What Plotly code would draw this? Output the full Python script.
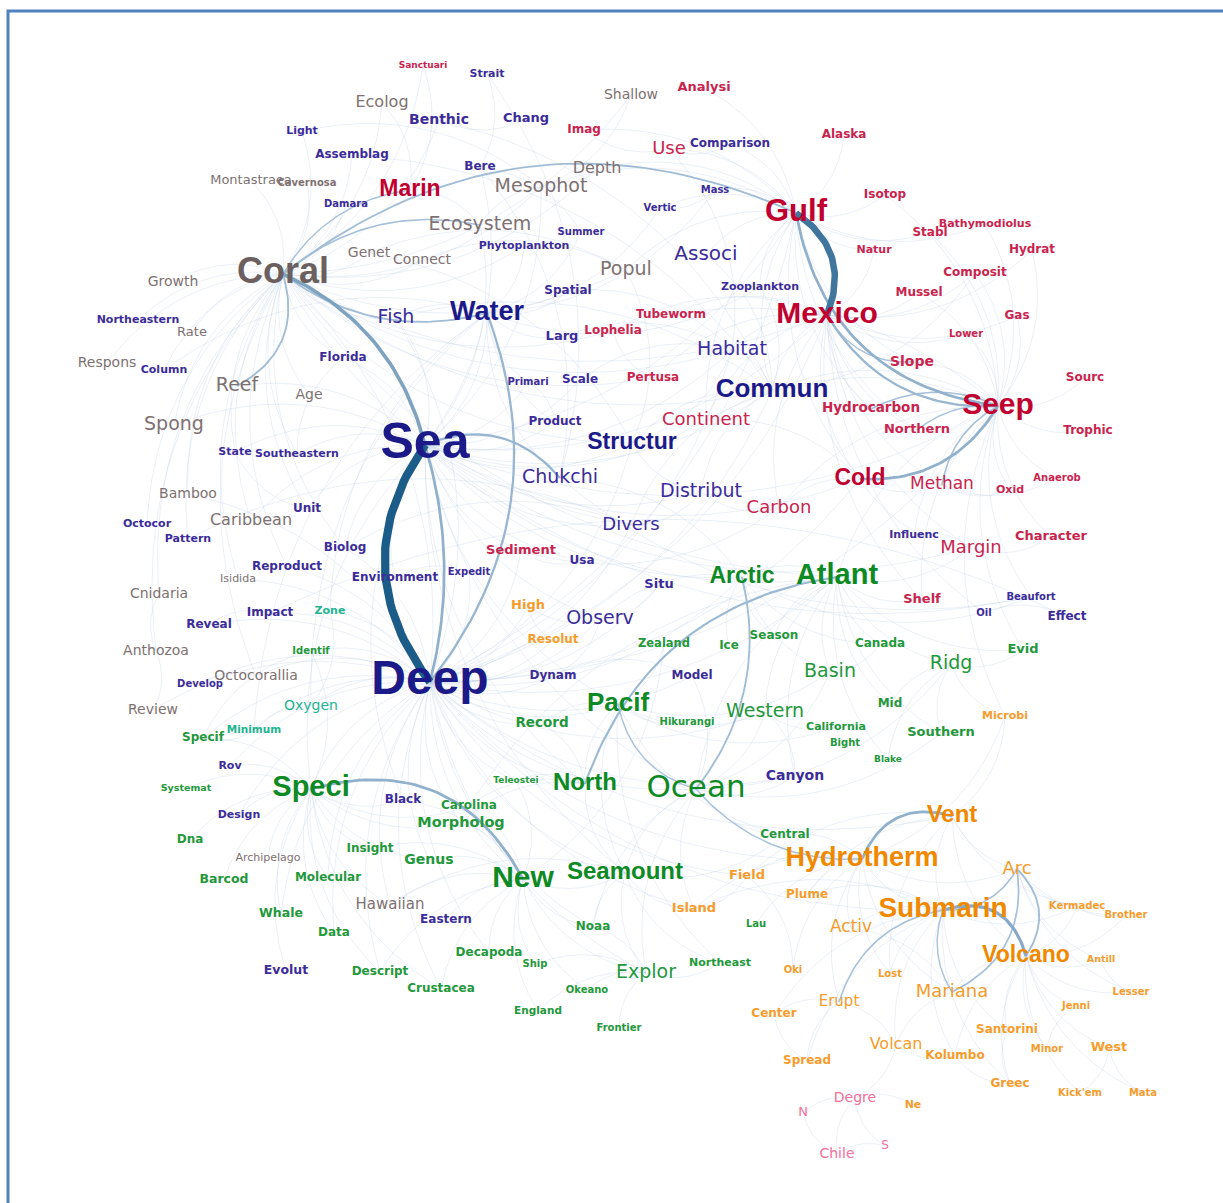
import numpy as np
import plotly.graph_objects as go

# ---------------- DATA ----------------
# (word, x, y, weight(font px), bold flag) per thematic cluster
GRAY = [
    ("Coral", 283, 274, 36, 1), ("Ecolog", 382, 103, 16, 0), ("Shallow", 631, 95, 14, 0),
    ("Depth", 597, 169, 16, 0), ("Mesophot", 541, 187, 19, 0), ("Montastraea", 251, 181, 13, 0),
    ("Cavernosa", 307, 183, 10, 1), ("Ecosystem", 480, 225, 19, 0), ("Genet", 369, 253, 14, 0),
    ("Connect", 422, 260, 14, 0), ("Popul", 626, 270, 19, 0), ("Growth", 173, 282, 14, 0),
    ("Rate", 192, 333, 13, 0), ("Respons", 107, 363, 14, 0), ("Reef", 237, 386, 19, 0),
    ("Age", 309, 395, 14, 0), ("Spong", 174, 425, 19, 0), ("Bamboo", 188, 494, 14, 0),
    ("Caribbean", 251, 521, 16, 0), ("Isidida", 238, 579, 11, 0), ("Cnidaria", 159, 594, 14, 0),
    ("Anthozoa", 156, 651, 14, 0), ("Octocorallia", 256, 676, 14, 0), ("Review", 153, 710, 14, 0),
    ("Archipelago", 268, 858, 11, 0), ("Hawaiian", 390, 905, 15, 0),
]
BLUE = [
    ("Sea", 425, 445, 50, 1), ("Deep", 430, 682, 48, 1), ("Water", 487, 313, 27, 1),
    ("Commun", 772, 390, 26, 1), ("Structur", 632, 443, 23, 1), ("Strait", 487, 74, 11, 1),
    ("Light", 302, 131, 11, 1), ("Benthic", 439, 120, 14, 1), ("Chang", 526, 119, 13, 1),
    ("Comparison", 730, 144, 12, 1), ("Assemblag", 352, 155, 12, 1), ("Bere", 480, 167, 12, 1),
    ("Damara", 346, 204, 10, 1), ("Mass", 715, 190, 10, 1), ("Vertic", 660, 208, 10, 1),
    ("Summer", 581, 232, 10, 1), ("Phytoplankton", 524, 246, 11, 1), ("Associ", 706, 255, 20, 0),
    ("Zooplankton", 760, 287, 11, 1), ("Spatial", 568, 291, 12, 1), ("Northeastern", 138, 320, 11, 1),
    ("Fish", 396, 318, 19, 0), ("Larg", 562, 337, 13, 1), ("Column", 164, 370, 11, 1),
    ("Florida", 343, 358, 12, 1), ("Habitat", 732, 350, 19, 0), ("Primari", 528, 382, 10, 1),
    ("Scale", 580, 380, 12, 1), ("Product", 555, 422, 12, 1), ("State", 235, 452, 11, 1),
    ("Southeastern", 297, 454, 11, 1), ("Chukchi", 560, 478, 19, 0), ("Distribut", 701, 492, 19, 0),
    ("Unit", 307, 509, 12, 1), ("Octocor", 147, 524, 11, 1), ("Divers", 631, 525, 18, 0),
    ("Pattern", 188, 539, 11, 1), ("Influenc", 914, 535, 11, 1), ("Biolog", 345, 548, 12, 1),
    ("Usa", 582, 561, 12, 1), ("Reproduct", 287, 567, 12, 1), ("Environment", 395, 578, 12, 1),
    ("Expedit", 469, 572, 10, 1), ("Situ", 659, 585, 13, 1), ("Beaufort", 1031, 597, 10, 1),
    ("Impact", 270, 613, 12, 1), ("Oil", 984, 613, 10, 1), ("Effect", 1067, 617, 12, 1),
    ("Observ", 600, 619, 19, 0), ("Reveal", 209, 625, 12, 1), ("Dynam", 553, 676, 12, 1),
    ("Model", 692, 676, 12, 1), ("Develop", 200, 684, 10, 1), ("Rov", 230, 766, 11, 1),
    ("Canyon", 795, 776, 14, 1), ("Black", 403, 800, 12, 1), ("Design", 239, 815, 11, 1),
    ("Eastern", 446, 920, 12, 1), ("Evolut", 286, 971, 12.5, 1),
]
RED = [
    ("Gulf", 796, 213, 31, 1), ("Mexico", 827, 315, 30, 1), ("Seep", 998, 406, 30, 1),
    ("Marin", 410, 190, 23, 1), ("Cold", 860, 479, 23, 1), ("Sanctuari", 423, 66, 9, 1),
    ("Analysi", 704, 88, 13, 1), ("Imag", 584, 130, 12, 1), ("Use", 669, 149, 18, 0),
    ("Alaska", 844, 135, 12, 1), ("Isotop", 885, 195, 12, 1), ("Bathymodiolus", 985, 224, 11, 1),
    ("Stabl", 930, 233, 12, 1), ("Natur", 874, 250, 11, 1), ("Hydrat", 1032, 250, 12, 1),
    ("Composit", 975, 273, 12, 1), ("Mussel", 919, 293, 12, 1), ("Tubeworm", 671, 315, 12, 1),
    ("Gas", 1017, 316, 12, 1), ("Lophelia", 613, 331, 12, 1), ("Lower", 966, 334, 10, 1),
    ("Slope", 912, 362, 14, 1), ("Sourc", 1085, 378, 12, 1), ("Pertusa", 653, 378, 12, 1),
    ("Hydrocarbon", 871, 409, 13.5, 1), ("Continent", 706, 420, 18, 0), ("Trophic", 1088, 431, 12, 1),
    ("Northern", 917, 430, 13, 1), ("Methan", 942, 485, 17, 0), ("Oxid", 1010, 490, 11, 1),
    ("Anaerob", 1057, 478, 10, 1), ("Carbon", 779, 508, 18, 0), ("Character", 1051, 537, 13, 1),
    ("Margin", 971, 548, 18, 0), ("Sediment", 521, 551, 13, 1), ("Shelf", 922, 600, 13, 1),
]
GREEN = [
    ("Atlant", 837, 577, 29, 1), ("Arctic", 742, 577, 23, 1), ("Ocean", 696, 789, 31, 0),
    ("Pacif", 618, 704, 26, 1), ("North", 585, 784, 24, 1), ("Speci", 311, 789, 29, 1),
    ("New", 523, 879, 30, 1), ("Seamount", 625, 873, 24, 1), ("Zealand", 664, 644, 11.5, 1),
    ("Ice", 729, 646, 12, 1), ("Season", 774, 636, 12, 1), ("Canada", 880, 644, 12, 1),
    ("Identif", 311, 651, 10, 1), ("Evid", 1023, 650, 13, 1), ("Ridg", 951, 664, 19, 0),
    ("Basin", 830, 672, 19, 0), ("Mid", 890, 704, 12, 1), ("Western", 765, 712, 19, 0),
    ("Record", 542, 724, 13.5, 1), ("Hikurangi", 687, 722, 10, 1), ("California", 836, 727, 11, 1),
    ("Bight", 845, 743, 10, 1), ("Southern", 941, 733, 13, 1), ("Specif", 203, 738, 12, 1),
    ("Blake", 888, 760, 9, 1), ("Teleostei", 516, 781, 9, 1), ("Systemat", 186, 789, 9.5, 1),
    ("Carolina", 469, 806, 12, 1), ("Morpholog", 461, 823, 14.5, 1), ("Central", 785, 835, 12, 1),
    ("Dna", 190, 840, 12, 1), ("Insight", 370, 849, 12, 1), ("Genus", 429, 860, 14, 1),
    ("Barcod", 224, 880, 12.5, 1), ("Molecular", 328, 878, 12, 1), ("Whale", 281, 914, 12.5, 1),
    ("Noaa", 593, 927, 12, 1), ("Lau", 756, 924, 10, 1), ("Data", 334, 933, 12, 1),
    ("Decapoda", 489, 953, 12, 1), ("Ship", 535, 964, 10, 1), ("Northeast", 720, 963, 11, 1),
    ("Explor", 646, 973, 19, 0), ("Descript", 380, 972, 12, 1), ("Okeano", 587, 990, 10, 1),
    ("Crustacea", 441, 989, 12, 1), ("England", 538, 1011, 10.5, 1), ("Frontier", 619, 1028, 10, 1),
]
ORANGE = [
    ("Hydrotherm", 862, 859, 27, 1), ("Submarin", 943, 910, 28, 1), ("Volcano", 1026, 956, 23, 1),
    ("Vent", 952, 816, 24, 1), ("High", 528, 606, 13, 1), ("Resolut", 553, 640, 12, 1),
    ("Microbi", 1005, 716, 11, 1), ("Arc", 1017, 869, 18, 0), ("Field", 747, 876, 13, 1),
    ("Plume", 807, 895, 12, 1), ("Kermadec", 1077, 906, 10, 1), ("Brother", 1126, 915, 10, 1),
    ("Island", 694, 909, 13, 1), ("Activ", 851, 928, 17, 0), ("Antill", 1101, 960, 9.5, 1),
    ("Oki", 793, 970, 10, 1), ("Lost", 890, 974, 10, 1), ("Erupt", 839, 1002, 15, 0),
    ("Mariana", 952, 992, 18, 0), ("Lesser", 1131, 992, 10, 1), ("Jenni", 1076, 1006, 10, 1),
    ("Center", 774, 1014, 12, 1), ("Santorini", 1007, 1030, 12, 1), ("Volcan", 896, 1045, 16, 0),
    ("Kolumbo", 955, 1056, 12, 1), ("Minor", 1047, 1049, 10, 1), ("West", 1109, 1048, 13, 1),
    ("Spread", 807, 1061, 12, 1), ("Greec", 1010, 1084, 12, 1), ("Kick'em", 1080, 1093, 10, 1),
    ("Mata", 1143, 1093, 10, 1), ("Ne", 913, 1105, 11, 1),
]
TEAL = [("Zone", 330, 611, 11, 1), ("Oxygen", 311, 706, 14, 0), ("Minimum", 254, 730, 10.5, 1)]
PINK = [("Degre", 855, 1098, 14, 0), ("N", 803, 1113, 13, 0), ("S", 885, 1146, 12, 0),
        ("Chile", 837, 1154, 14, 0)]

# strong co-occurrence links (source, target, weight)
MAIN_EDGES = [
    ("Sea", "Deep", 9), ("Deep", "Sea", 2.5), ("Mexico", "Gulf", 7), ("Sea", "Coral", 3.5),
    ("Deep", "Water", 2), ("Gulf", "Seep", 2.5), ("Mexico", "Seep", 2), ("Cold", "Seep", 2.5),
    ("New", "Speci", 2.5), ("Vent", "Hydrotherm", 2.5), ("Volcano", "Submarin", 3),
    ("Volcano", "Arc", 1.5), ("Submarin", "Arc", 1.2), ("Mariana", "Arc", 1.3),
    ("Atlant", "North", 1.8), ("Ocean", "Arctic", 1.5), ("Gulf", "Coral", 1.5),
    ("Coral", "Water", 1.5), ("Reef", "Coral", 1.5), ("Chukchi", "Sea", 2),
    ("Ecosystem", "Coral", 1.2), ("Marin", "Coral", 1.0), ("Seep", "Methan", 1.2),
    ("Seep", "Hydrocarbon", 1.2), ("Seep", "Northern", 1.0), ("Mexico", "Slope", 1.0),
    ("Pacif", "Ocean", 1.0), ("Submarin", "Erupt", 1.2), ("Ocean", "Hydrotherm", 1.0),
    ("Submarin", "Mariana", 1.0),
]
MAIN_BEND = [0.18, 0.07, 0.2, 0.12, 0.14, 0.18, 0.15, 0.15, 0.2, 0.22, 0.25, 0.2, 0.15, 0.18,
             0.15, 0.12, 0.15, 0.12, 0.2, 0.18, 0.12, 0.12, 0.12, 0.12, 0.1, 0.15, 0.15, 0.15,
             0.12, 0.12]

FAINT_EDGES = [
    ("Sea","Structur"),("Sea","Commun"),("Sea","Habitat"),("Sea","Divers"),("Sea","Observ"),("Sea","Florida"),
    ("Sea","Southeastern"),("Sea","Biolog"),("Sea","Environment"),("Sea","Sediment"),("Sea","Arctic"),
    ("Sea","Atlant"),("Sea","Mexico"),("Sea","Gulf"),("Sea","Water"),("Sea","Fish"),("Sea","Spong"),
    ("Sea","Caribbean"),("Sea","Reef"),("Sea","Mesophot"),("Sea","Ecosystem"),("Sea","Distribut"),
    ("Sea","Continent"),("Sea","Margin"),("Sea","Speci"),("Sea","Ocean"),("Sea","Pacif"),("Sea","North"),
    ("Sea","Seamount"),("Sea","Black"),("Sea","Product"),("Sea","Primari"),("Sea","Scale"),("Sea","Cold"),
    ("Sea","Seep"),("Sea","Unit"),("Sea","State"),("Sea","Bere"),("Sea","Beaufort"),("Sea","Usa"),
    ("Deep","Coral"),("Deep","Speci"),("Deep","New"),("Deep","Ocean"),("Deep","Pacif"),("Deep","North"),
    ("Deep","Observ"),("Deep","Dynam"),("Deep","Record"),("Deep","Oxygen"),("Deep","Octocorallia"),
    ("Deep","Review"),("Deep","Rov"),("Deep","Design"),("Deep","Biolog"),("Deep","Impact"),("Deep","Reveal"),
    ("Deep","Zone"),("Deep","Hydrotherm"),("Deep","Vent"),("Deep","Explor"),("Deep","Seamount"),
    ("Deep","Morpholog"),("Deep","Genus"),("Deep","Hawaiian"),("Deep","Canyon"),("Deep","Atlant"),
    ("Deep","Arctic"),("Deep","Divers"),("Deep","Commun"),("Deep","Fish"),("Deep","Habitat"),("Deep","Cold"),
    ("Deep","Seep"),("Deep","Gulf"),("Deep","Mexico"),("Deep","Structur"),("Deep","Submarin"),
    ("Deep","Teleostei"),("Deep","Molecular"),("Deep","Crustacea"),("Deep","Decapoda"),("Deep","Noaa"),
    ("Deep","Descript"),("Deep","Whale"),("Deep","Data"),("Deep","Expedit"),("Deep","High"),
    ("Deep","Resolut"),("Deep","Situ"),("Deep","Model"),("Deep","Sediment"),("Deep","Reproduct"),
    ("Deep","Bamboo"),("Deep","Isidida"),("Deep","Develop"),("Deep","Specif"),("Deep","Minimum"),
    ("Deep","Identif"),("Deep","Western"),("Deep","Island"),("Deep","Field"),
    ("Coral","Growth"),("Coral","Northeastern"),("Coral","Rate"),("Coral","Respons"),("Coral","Column"),
    ("Coral","Florida"),("Coral","Age"),("Coral","Spong"),("Coral","Genet"),("Coral","Connect"),
    ("Coral","Montastraea"),("Coral","Cavernosa"),("Coral","Damara"),("Coral","Light"),("Coral","Assemblag"),
    ("Coral","Ecolog"),("Coral","Benthic"),("Coral","Bamboo"),("Coral","Caribbean"),("Coral","Octocor"),
    ("Coral","Pattern"),("Coral","Isidida"),("Coral","Cnidaria"),("Coral","Anthozoa"),("Coral","Reproduct"),
    ("Coral","Unit"),("Coral","State"),("Coral","Southeastern"),("Coral","Mesophot"),("Coral","Depth"),
    ("Coral","Shallow"),("Coral","Habitat"),("Coral","Lophelia"),("Coral","Pertusa"),("Coral","Commun"),
    ("Coral","Structur"),("Coral","Divers"),("Coral","Mexico"),("Coral","Atlant"),("Coral","Octocorallia"),
    ("Coral","Fish"),("Coral","Popul"),("Coral","Sanctuari"),("Coral","Phytoplankton"),("Coral","Biolog"),
    ("Gulf","Isotop"),("Gulf","Natur"),("Gulf","Stabl"),("Gulf","Bathymodiolus"),("Gulf","Alaska"),
    ("Gulf","Use"),("Gulf","Analysi"),("Gulf","Comparison"),("Gulf","Mass"),("Gulf","Vertic"),
    ("Gulf","Associ"),("Gulf","Zooplankton"),("Gulf","Commun"),("Gulf","Continent"),("Gulf","Slope"),
    ("Gulf","Northern"),("Gulf","Hydrocarbon"),("Gulf","Cold"),("Gulf","Imag"),("Gulf","Mesophot"),
    ("Gulf","Depth"),("Gulf","Popul"),
    ("Mexico","Hydrat"),("Mexico","Composit"),("Mexico","Mussel"),("Mexico","Tubeworm"),("Mexico","Habitat"),
    ("Mexico","Hydrocarbon"),("Mexico","Northern"),("Mexico","Commun"),("Mexico","Continent"),
    ("Mexico","Cold"),("Mexico","Carbon"),("Mexico","Lophelia"),("Mexico","Gas"),("Mexico","Lower"),
    ("Mexico","Oil"),("Mexico","Methan"),("Mexico","Shelf"),("Mexico","Margin"),("Mexico","Pertusa"),
    ("Mexico","Natur"),
    ("Seep","Sourc"),("Seep","Trophic"),("Seep","Oxid"),("Seep","Anaerob"),("Seep","Character"),
    ("Seep","Mussel"),("Seep","Gas"),("Seep","Hydrat"),("Seep","Composit"),("Seep","Slope"),
    ("Seep","Continent"),("Seep","Carbon"),("Seep","Influenc"),("Seep","Shelf"),("Seep","Evid"),
    ("Seep","Lower"),("Seep","Isotop"),("Seep","Stabl"),("Seep","Bathymodiolus"),("Seep","Tubeworm"),
    ("Seep","Commun"),("Seep","Atlant"),("Seep","Microbi"),("Seep","Beaufort"),
    ("Cold","Methan"),("Cold","Carbon"),("Cold","Continent"),("Cold","Margin"),("Methan","Oxid"),
    ("Methan","Anaerob"),("Margin","Character"),("Margin","Influenc"),
    ("Atlant","Arctic"),("Atlant","Canada"),("Atlant","Basin"),("Atlant","Ridg"),("Atlant","Mid"),
    ("Atlant","Western"),("Atlant","Southern"),("Atlant","Shelf"),("Atlant","Margin"),("Atlant","Ocean"),
    ("Atlant","Season"),("Atlant","Carolina"),("Atlant","Evid"),("Atlant","Blake"),("Atlant","Canyon"),
    ("Arctic","Ice"),("Arctic","Season"),("Arctic","Beaufort"),("Arctic","Chukchi"),("Arctic","Canada"),
    ("Arctic","Basin"),("Arctic","Observ"),
    ("Ocean","Western"),("Ocean","Southern"),("Ocean","Ridg"),("Ocean","Canyon"),("Ocean","Central"),
    ("Ocean","Explor"),("Ocean","Seamount"),("Ocean","Noaa"),("Ocean","Island"),("Ocean","Basin"),
    ("Ocean","Model"),
    ("Pacif","North"),("Pacif","Western"),("Pacif","Zealand"),("Pacif","Hikurangi"),("Pacif","Northeast"),
    ("Pacif","Central"),("Pacif","Record"),("Pacif","California"),("Pacif","Seamount"),("Pacif","Basin"),
    ("North","Carolina"),("North","Teleostei"),("North","Seamount"),("North","Morpholog"),("North","Record"),
    ("New","Zealand"),("New","England"),("New","Seamount"),("New","Genus"),("New","Morpholog"),
    ("New","Descript"),("New","Decapoda"),("New","Crustacea"),("New","Noaa"),("New","Ship"),
    ("New","Okeano"),("New","Explor"),("New","Hawaiian"),("New","Eastern"),("New","Carolina"),
    ("New","Black"),("New","Insight"),("New","Teleostei"),
    ("Seamount","Explor"),("Seamount","Noaa"),("Seamount","Island"),("Seamount","Hawaiian"),
    ("Seamount","Central"),("Seamount","Northeast"),
    ("Explor","Okeano"),("Explor","Frontier"),("Explor","Noaa"),("Explor","Ship"),("Explor","Northeast"),
    ("Explor","England"),
    ("Speci","Genus"),("Speci","Morpholog"),("Speci","Molecular"),("Speci","Dna"),("Speci","Barcod"),
    ("Speci","Systemat"),("Speci","Design"),("Speci","Specif"),("Speci","Insight"),("Speci","Archipelago"),
    ("Speci","Whale"),("Speci","Data"),("Speci","Evolut"),("Speci","Descript"),("Speci","Black"),
    ("Speci","Carolina"),("Speci","Rov"),("Speci","Identif"),("Speci","Hawaiian"),("Speci","Crustacea"),
    ("Ridg","Mid"),("Ridg","Evid"),("Ridg","Southern"),("Ridg","Microbi"),("Ridg","Blake"),
    ("California","Bight"),("Canyon","Western"),("Basin","Canada"),("Western","California"),
    ("Hydrotherm","Field"),("Hydrotherm","Plume"),("Hydrotherm","Activ"),("Hydrotherm","Submarin"),
    ("Hydrotherm","Arc"),("Hydrotherm","Central"),("Hydrotherm","Lau"),("Hydrotherm","Microbi"),
    ("Hydrotherm","Island"),("Hydrotherm","Mariana"),("Hydrotherm","Oki"),("Hydrotherm","Lost"),
    ("Hydrotherm","Erupt"),
    ("Vent","Arc"),("Vent","Submarin"),("Vent","Field"),("Vent","Lost"),("Vent","Microbi"),
    ("Vent","Kermadec"),("Vent","Volcano"),("Vent","Plume"),
    ("Submarin","Volcan"),("Submarin","Kolumbo"),("Submarin","Santorini"),("Submarin","Activ"),
    ("Submarin","Lost"),("Submarin","Spread"),("Submarin","Center"),("Submarin","Greec"),
    ("Submarin","Kermadec"),("Submarin","Island"),("Submarin","Plume"),
    ("Volcano","Kermadec"),("Volcano","Antill"),("Volcano","Lesser"),("Volcano","Jenni"),("Volcano","West"),
    ("Volcano","Kolumbo"),("Volcano","Santorini"),("Volcano","Minor"),("Volcano","Mata"),
    ("Volcano","Kick'em"),("Volcano","Mariana"),("Volcano","Brother"),("Volcano","Greec"),
    ("Arc","Kermadec"),("Arc","Brother"),("Arc","Antill"),("Arc","Lesser"),("Kermadec","Brother"),
    ("Antill","Lesser"),("Santorini","Greec"),("Kolumbo","Greec"),("West","Mata"),("Jenni","Minor"),
    ("Center","Spread"),("Erupt","Center"),("Erupt","Spread"),("Volcan","Kolumbo"),("Volcan","Erupt"),
    ("Mariana","Volcan"),("Kick'em","West"),("Mariana","Activ"),
    ("Degre","N"),("Degre","S"),("Degre","Chile"),("N","Chile"),("Ne","Degre"),("S","Chile"),
    ("Degre","Volcan"),("Oki","Field"),("Island","Field"),("High","Resolut"),("High","Observ"),
    ("Water","Column"),("Water","Fish"),("Water","Phytoplankton"),("Water","Zooplankton"),
    ("Water","Spatial"),("Water","Larg"),("Water","Primari"),("Water","Oxygen"),("Water","Minimum"),
    ("Water","Zone"),("Water","Mass"),("Water","Vertic"),("Water","Summer"),("Water","Chukchi"),
    ("Water","Product"),
    ("Commun","Structur"),("Commun","Habitat"),("Commun","Distribut"),("Commun","Divers"),
    ("Commun","Associ"),("Commun","Benthic"),("Commun","Assemblag"),("Commun","Fish"),
    ("Commun","Zooplankton"),("Commun","Composit"),
    ("Structur","Popul"),("Structur","Genet"),("Structur","Distribut"),("Structur","Habitat"),
    ("Divers","Distribut"),("Divers","Biolog"),("Divers","Pattern"),("Observ","Situ"),("Popul","Genet"),
    ("Popul","Connect"),("Ecosystem","Marin"),("Marin","Sanctuari"),("Marin","Ecolog"),("Mesophot","Depth"),
    ("Mesophot","Shallow"),("Mesophot","Light"),("Mesophot","Ecosystem"),("Benthic","Chang"),
    ("Imag","Use"),("Use","Comparison"),("Habitat","Larg"),("Habitat","Scale"),("Habitat","Spatial"),
    ("Habitat","Use"),("Chukchi","Beaufort"),("Chukchi","Bere"),("Bere","Strait"),("Chukchi","Strait"),
    ("Summer","Bere"),("Vertic","Mass"),("Florida","Southeastern"),("State","Unit"),("Impact","Reveal"),
    ("Cnidaria","Anthozoa"),("Octocorallia","Develop"),("Review","Anthozoa"),("Specif","Minimum"),
    ("Oxygen","Minimum"),("Oxygen","Zone"),("Identif","Specif"),("Model","Dynam"),("Sediment","Carbon"),
    ("Sediment","Usa"),("Expedit","Environment"),("Product","Primari"),("Effect","Oil"),("Effect","Impact"),
    ("Lophelia","Pertusa"),("Distribut","Carbon"),("Dynam","Observ"),
]

# ---------------- STYLE ----------------
CLUSTERS = {"gray": GRAY, "blue": BLUE, "red": RED, "green": GREEN,
            "orange": ORANGE, "teal": TEAL, "pink": PINK}
COLOR_BIG = {"gray": "#6b5f5f", "blue": "#1b1a88", "red": "#c1002f", "green": "#0d8a24",
             "orange": "#f08800", "teal": "#1fae8c", "pink": "#f06a96"}
COLOR_SMALL = {"gray": "#7d7171", "blue": "#3b2c9a", "red": "#c8244e", "green": "#23983b",
               "orange": "#f59c2c", "teal": "#22b48f", "pink": "#f27099"}

pos = {}
for name, items in CLUSTERS.items():
    for w, x, y, s, b in items:
        pos[w] = (x, y)


def bezier(p, q, bend, n=28):
    x0, y0 = p
    x1, y1 = q
    dx, dy = x1 - x0, y1 - y0
    mx, my = (x0 + x1) / 2, (y0 + y1) / 2
    cx, cy = mx - 2 * bend * dy, my + 2 * bend * dx
    t = np.linspace(0, 1, n)
    xs = (1 - t) ** 2 * x0 + 2 * (1 - t) * t * cx + t ** 2 * x1
    ys = (1 - t) ** 2 * y0 + 2 * (1 - t) * t * cy + t ** 2 * y1
    return list(xs) + [None], list(ys) + [None]


def mix(c1, c2, t):
    a = [int(c1[i:i + 2], 16) for i in (1, 3, 5)]
    b = [int(c2[i:i + 2], 16) for i in (1, 3, 5)]
    return "rgb(%d,%d,%d)" % tuple(round(a[k] + (b[k] - a[k]) * t) for k in range(3))


fig = go.Figure()

# faint web
fx, fy = [], []
for a, b in FAINT_EDGES:
    if a in pos and b in pos:
        xs, ys = bezier(pos[a], pos[b], 0.12)
        fx += xs
        fy += ys
fig.add_trace(go.Scatter(x=fx, y=fy, mode="lines", hoverinfo="skip", showlegend=False,
                         line=dict(color="rgba(178,196,224,0.33)", width=0.8)))

# weighted links, grouped by weight
groups = {}
for (a, b, w), bend in zip(MAIN_EDGES, MAIN_BEND):
    xs, ys = bezier(pos[a], pos[b], bend, n=40)
    g = groups.setdefault(w, ([], []))
    g[0].extend(xs)
    g[1].extend(ys)
for w in sorted(groups):
    t = min(w / 9.0, 1.0)
    fig.add_trace(go.Scatter(x=groups[w][0], y=groups[w][1], mode="lines", hoverinfo="skip",
                             showlegend=False,
                             line=dict(color=mix("#bcd0e6", "#1c5c88", t), width=0.6 + 0.85 * w)))

# words
classes = {
    "big": dict(family="Liberation Sans", weight="bold"),
    "smallbold": dict(family="DejaVu Sans", weight="bold"),
    "regular": dict(family="DejaVu Sans", weight="normal"),
}
buckets = {k: dict(x=[], y=[], t=[], s=[], c=[]) for k in classes}
for name, items in CLUSTERS.items():
    for w, x, y, s, b in items:
        if b and s >= 19:
            k = "big"
        elif b:
            k = "smallbold"
        else:
            k = "regular"
        col = COLOR_BIG[name] if s >= 22 else COLOR_SMALL[name]
        d = buckets[k]
        d["x"].append(x); d["y"].append(y); d["t"].append(w); d["s"].append(s); d["c"].append(col)

for k, f in classes.items():
    d = buckets[k]
    fig.add_trace(go.Scatter(x=d["x"], y=d["y"], text=d["t"], mode="text",
                             textposition="middle center", hoverinfo="skip", showlegend=False,
                             textfont=dict(family=f["family"], weight=f["weight"],
                                           size=d["s"], color=d["c"])))

# frame
fig.add_shape(type="path", path="M 8,1203 L 8,11 L 1223,11", xref="x", yref="y",
              line=dict(color="#4f81bd", width=3))

fig.update_layout(
    width=1223, height=1203, margin=dict(l=0, r=0, t=0, b=0),
    paper_bgcolor="white", plot_bgcolor="white",
    xaxis=dict(range=[0, 1223], visible=False, fixedrange=True),
    yaxis=dict(range=[1203, 0], visible=False, fixedrange=True),
)
fig.write_html("out.html", config={"displayModeBar": False},
               post_script="document.body.style.margin='0';")
